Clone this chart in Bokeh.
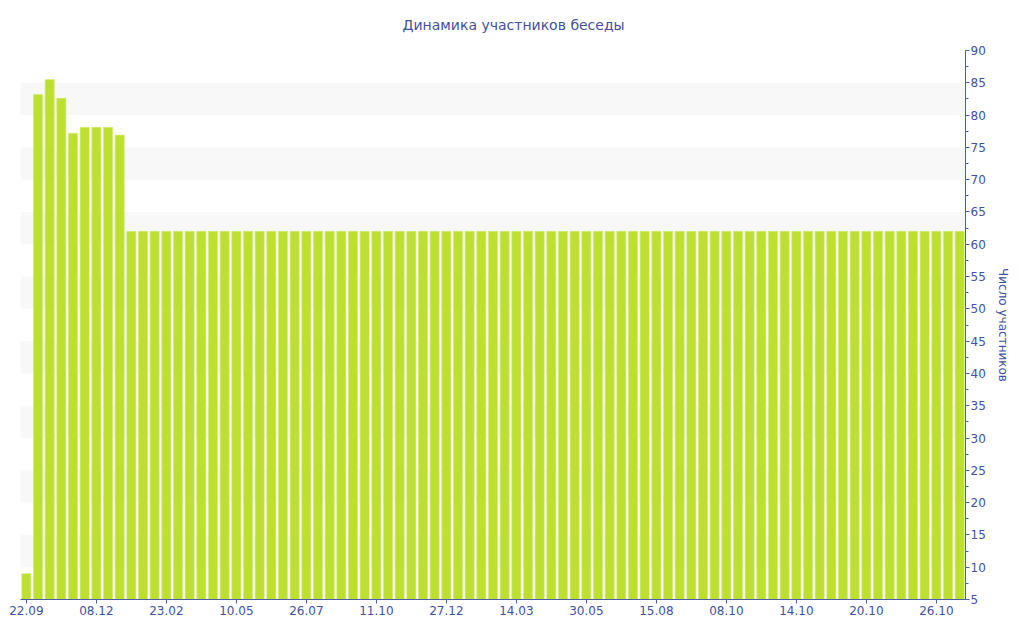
from bokeh.plotting import figure
from bokeh.models import LinearAxis, Range1d, FixedTicker, Title
from bokeh.embed import file_html
from bokeh.resources import INLINE

tick_labels = ["22.09", "08.12", "23.02", "10.05", "26.07", "11.10", "27.12",
               "14.03", "30.05", "15.08", "08.10", "14.10", "20.10", "26.10"]
head_values = [9, 83.2, 85.5, 82.6, 77.2, 78.1, 78.1, 78.1, 76.9]
tail_values = [62] * 72
values = head_values + tail_values
idx = list(range(len(values)))

BLUE = "#3f51a0"
AXIS = "#4a5eaa"
BAR = "#bde030"

p = figure(frame_width=945, frame_height=549, output_backend="svg",
           toolbar_location=None, x_range=Range1d(-0.5, len(values) - 0.5),
           y_range=Range1d(5, 90), y_axis_location=None,
           min_border_left=20, min_border_right=0, min_border_top=0,
           min_border_bottom=0)
p.outline_line_color = None
p.background_fill_color = "white"

p.add_layout(Title(text=" ", text_font_size="1px", standoff=0), "above")
t = Title(text="Динамика участников беседы", align="left",
          text_color=BLUE, text_font="DejaVu Sans", text_font_size="14px",
          text_font_style="normal", standoff=29, offset=382)
p.title = t

p.vbar(x=idx, top=values, bottom=5, width=0.78, fill_color=BAR,
       line_color="#d4ec74", line_width=0.6)

yaxis = LinearAxis(ticker=FixedTicker(ticks=list(range(5, 91, 5)),
                                      minor_ticks=[x / 2 for x in range(10, 181, 5)]),
                   axis_label="Число участников")
yaxis.axis_line_color = AXIS
yaxis.major_tick_line_color = AXIS
yaxis.minor_tick_line_color = AXIS
yaxis.major_tick_in = 0
yaxis.major_tick_out = 4
yaxis.minor_tick_in = 0
yaxis.minor_tick_out = 3
yaxis.major_label_text_color = BLUE
yaxis.major_label_text_font = "DejaVu Sans"
yaxis.major_label_text_font_size = "12px"
yaxis.major_label_standoff = 1
yaxis.axis_label_text_color = BLUE
yaxis.axis_label_text_font = "DejaVu Sans"
yaxis.axis_label_text_font_size = "12px"
yaxis.axis_label_text_font_style = "normal"
yaxis.axis_label_standoff = 7
p.add_layout(yaxis, "right")

xaxis = p.xaxis[0]
ticks = list(range(0, len(values), 6))
xaxis.ticker = FixedTicker(ticks=ticks, minor_ticks=[])
xaxis.major_label_overrides = {tk: lab for tk, lab in zip(ticks, tick_labels)}
xaxis.axis_line_color = AXIS
xaxis.major_tick_line_color = AXIS
xaxis.major_tick_in = 0
xaxis.major_tick_out = 4
xaxis.minor_tick_line_color = None
xaxis.major_label_text_color = BLUE
xaxis.major_label_text_font = "DejaVu Sans"
xaxis.major_label_text_font_size = "12px"
xaxis.major_label_standoff = 2

p.xgrid.visible = False
p.ygrid.grid_line_color = None
p.ygrid.ticker = FixedTicker(ticks=list(range(5, 91, 5)))
p.ygrid.band_fill_color = "#f2f2f2"
p.ygrid.band_fill_alpha = 0.55

open("out.html", "w").write(file_html(p, INLINE))
